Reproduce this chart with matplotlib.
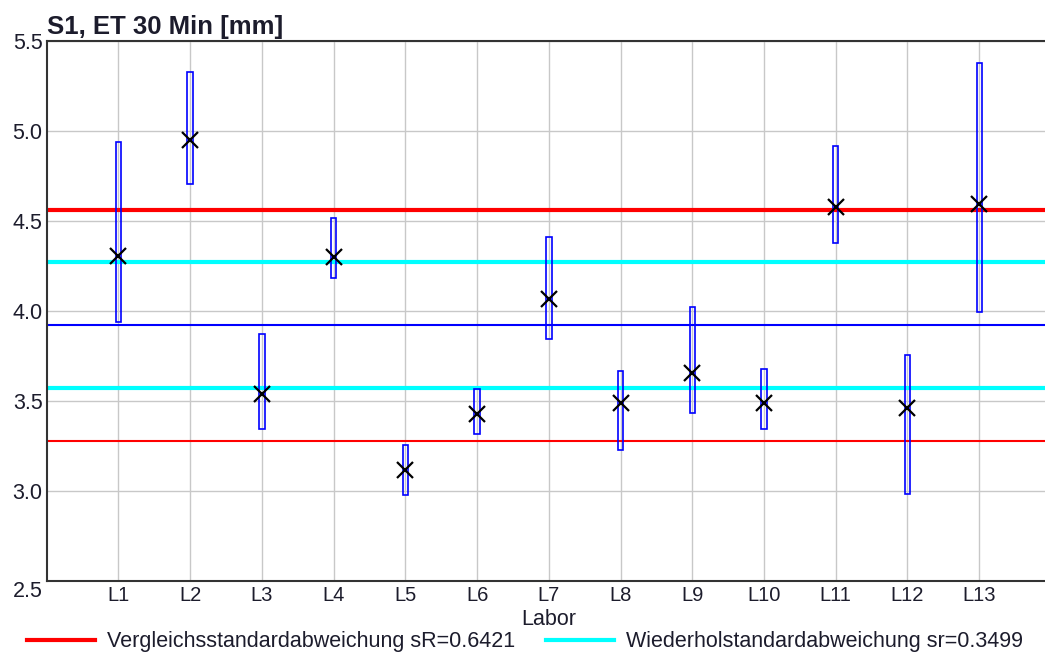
import numpy as np
import matplotlib.pyplot as plt

plt.rcParams['font.family'] = ['Liberation Sans', 'DejaVu Sans']

labs = ['L1', 'L2', 'L3', 'L4', 'L5', 'L6', 'L7', 'L8', 'L9', 'L10', 'L11', 'L12', 'L13']
lab_min = [3.936, 4.702, 3.344, 4.180, 2.976, 3.313, 3.843, 3.228, 3.430, 3.344, 4.374, 2.982, 3.994]
lab_max = [4.939, 5.328, 3.869, 4.517, 3.254, 3.565, 4.409, 3.667, 4.021, 3.674, 4.915, 3.754, 5.378]
lab_mean = [4.306, 4.948, 3.536, 4.297, 3.115, 3.424, 4.063, 3.486, 3.656, 3.486, 4.578, 3.458, 4.593]
sR = 0.6421
sr = 0.3499

x = np.arange(1, len(labs) + 1)
m = np.mean(lab_mean)
txt = '#1c1c2c'

fig = plt.figure(figsize=(10.45, 6.53), dpi=100)
ax = fig.add_axes([0.0447, 0.1107, 0.961, 0.827])

ax.axhline(m + sR, color='red', lw=3, zorder=2)
ax.axhline(m - sR, color='red', lw=1.5, zorder=2)
ax.axhline(m + sr, color='cyan', lw=3, zorder=2)
ax.axhline(m - sr, color='cyan', lw=3, zorder=2)
ax.axhline(m, color='blue', lw=1.5, zorder=2)

heights = np.array(lab_max) - np.array(lab_min)
ax.bar(x, heights, bottom=lab_min, width=0.075, fill=False, edgecolor='blue', lw=1.2, zorder=3)
ax.plot(x, lab_mean, 'x', color='black', ms=11, mew=1.6, zorder=4)

ax.set_xlim(0, 14)
ax.set_ylim(2.5, 5.5)
ax.set_xticks(x)
ax.set_xticklabels(labs)
yt = np.arange(2.5, 5.51, 0.5)
ax.set_yticks(yt)
ax.set_yticklabels(['%.1f' % v for v in yt])
ax.tick_params(axis='x', length=0, pad=4, labelsize=14.5, labelcolor=txt)
ax.tick_params(axis='y', length=0, pad=3, labelsize=15.5, labelcolor=txt)
# lowest label sits a bit below its line in the original
ax.get_yticklabels()[0].set_verticalalignment('top')
ax.grid(True, color='#c8c8c8', lw=1, zorder=0)
ax.set_axisbelow(True)
for s in ['left', 'bottom', 'top']:
    ax.spines[s].set_color('#333333')
    ax.spines[s].set_linewidth(1.5)
ax.spines['right'].set_visible(False)

ax.set_xlabel('Labor', fontsize=15.5, color=txt, labelpad=2.5)
ax.set_title('S1, ET 30 Min [mm]', loc='left', fontsize=18.5, fontweight='bold', color=txt, pad=4.5)

h1, = ax.plot([], [], color='red', lw=3)
h2, = ax.plot([], [], color='cyan', lw=3)
fig.legend([h1, h2], ['Vergleichsstandardabweichung sR=%.4f' % sR, 'Wiederholstandardabweichung sr=%.4f' % sr],
           loc='center left', bbox_to_anchor=(26.7 / 1045, 11.3 / 653), ncol=2, frameon=False,
           fontsize=15.5, handlelength=3.16, handletextpad=0.55, columnspacing=1.45,
           borderpad=0, borderaxespad=0, labelcolor=txt)

fig.savefig('out.png', dpi=100)
